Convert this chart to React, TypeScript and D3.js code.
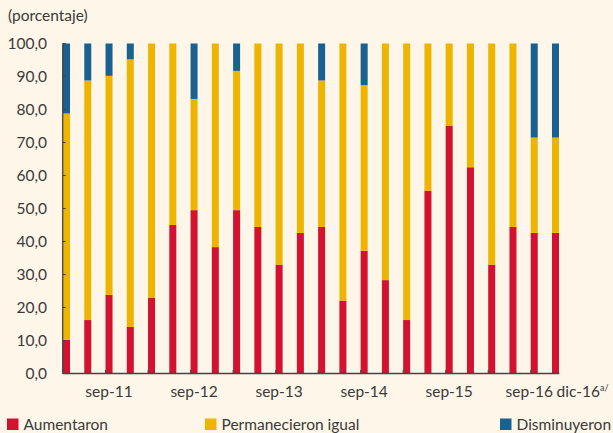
import * as d3 from 'd3';
import React from 'react';

// quarterly, mar-11 .. dic-16
const periods = [
  'mar-11', 'jun-11', 'sep-11', 'dic-11',
  'mar-12', 'jun-12', 'sep-12', 'dic-12',
  'mar-13', 'jun-13', 'sep-13', 'dic-13',
  'mar-14', 'jun-14', 'sep-14', 'dic-14',
  'mar-15', 'jun-15', 'sep-15', 'dic-15',
  'mar-16', 'jun-16', 'sep-16', 'dic-16'
];

const aumentaron = [
  10.2, 16.2, 23.8, 14.1, 23.0, 45.0, 49.5, 38.3, 49.5, 44.4, 33.0, 42.6,
  44.4, 22.1, 37.2, 28.3, 16.2, 55.4, 75.0, 62.5, 33.0, 44.4, 42.6, 42.6
];
const permanecieron = [
  68.6, 72.6, 66.4, 81.1, 77.0, 55.0, 33.7, 61.7, 42.2, 55.6, 67.0, 57.4,
  44.4, 77.9, 50.2, 71.7, 83.8, 44.6, 25.0, 37.5, 67.0, 55.6, 28.9, 28.9
];
const disminuyeron = [
  21.2, 11.2, 9.8, 4.8, 0, 0, 16.8, 0, 8.3, 0, 0, 0,
  11.2, 0, 12.6, 0, 0, 0, 0, 0, 0, 0, 28.5, 28.5
];

const seriesKeys = ['Aumentaron', 'Permanecieron igual', 'Disminuyeron'];
const seriesColors = ['#d2122e', '#eeb500', '#1b6190'];
const yTicks = [0, 10, 20, 30, 40, 50, 60, 70, 80, 90, 100];
const xLabels = ['sep-11', 'sep-12', 'sep-13', 'sep-14', 'sep-15', 'sep-16'];

const W = 613;
const H = 433;
const FONT = 'Lato, "Open Sans", sans-serif';
const TEXT = '#3a3a3a';
const AXIS = '#444';

export default function App() {
  const table = periods.map((p, i) => ({
    period: p,
    'Aumentaron': aumentaron[i],
    'Permanecieron igual': permanecieron[i],
    'Disminuyeron': disminuyeron[i]
  }));
  const stacked = d3.stack<any>().keys(seriesKeys)(table);

  const x = d3.scaleBand<string>()
    .domain(periods)
    .range([63, 559])
    .paddingInner(0.67)
    .paddingOuter(0);
  const y = d3.scaleLinear().domain([0, 100]).range([373.5, 43.5]);
  const fmt = (v: number) => d3.format('.1f')(v).replace('.', ',');

  const x0 = 62.7;
  const xEnd = 559.3;

  return (
    <svg width={W} height={H} style={{ position: 'absolute', left: 0, top: 0, display: 'block' }}>
      <rect width={W} height={H} fill="#fdf6e9" />
      <text x={8} y={21} fontFamily={FONT} fontSize={15.5} fill={TEXT}>(porcentaje)</text>

      {stacked.map((s, si) => (
        <g key={s.key} fill={seriesColors[si]}>
          {s.map((d, i) => {
            const h = y(d[0]) - y(d[1]);
            if (h <= 0) return null;
            return (
              <rect key={i} x={x(periods[i])} y={y(d[1])}
                width={x.bandwidth()} height={h} />
            );
          })}
        </g>
      ))}

      {/* y axis */}
      <line x1={x0} x2={x0} y1={y(100)} y2={y(0)} stroke={AXIS} strokeWidth={1.3} />
      {yTicks.map(t => (
        <g key={t}>
          <line x1={x0} x2={x0 + 3} y1={y(t)} y2={y(t)} stroke={AXIS} strokeWidth={1} />
          <text x={47} y={y(t)} dy="0.35em" textAnchor="end" fontFamily={FONT}
            fontSize={15.5} fill={TEXT}>{fmt(t)}</text>
        </g>
      ))}

      {/* x axis */}
      <line x1={x0} x2={xEnd} y1={y(0)} y2={y(0)} stroke={AXIS} strokeWidth={1.3} />
      {periods.filter((_, i) => i % 2 === 0).map(p => (
        <line key={p} x1={x(p)!} x2={x(p)!} y1={y(0)} y2={y(0) - 3.5}
          stroke={AXIS} strokeWidth={1} />
      ))}
      {xLabels.map(l => (
        <text key={l} x={x(l)! + x.bandwidth() / 2 + (l === 'sep-16' ? -5 : 0)} y={397}
          textAnchor="middle" fontFamily={FONT} fontSize={15.5} fill={TEXT}>{l}</text>
      ))}
      <text x={x('dic-16')! + x.bandwidth() / 2 + 1} y={397} fontFamily={FONT}
        fontSize={15.5} fill={TEXT}>
        dic-16<tspan fontSize={9} dy={-6}>a/</tspan>
      </text>

      {/* legend */}
      {seriesKeys.map((k, i) => {
        const lx = [7, 205, 500][i];
        return (
          <g key={k}>
            <rect x={lx} y={418.5} width={11.5} height={11.5} fill={seriesColors[i]} />
            <text x={lx + 16.5} y={430} fontFamily={FONT} fontSize={15.5} fill={TEXT}>{k}</text>
          </g>
        );
      })}
    </svg>
  );
}
